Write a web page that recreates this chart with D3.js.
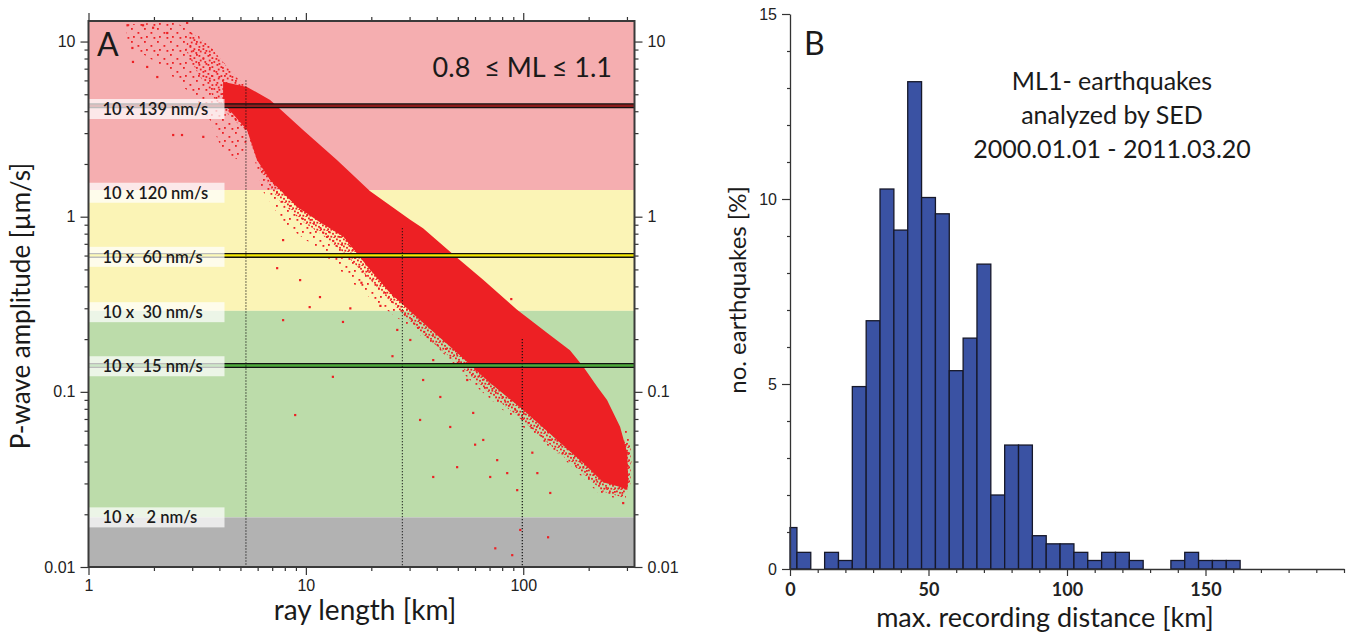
<!DOCTYPE html>
<html>
<head>
<meta charset="utf-8">
<script src="https://cdn.jsdelivr.net/npm/d3@7"></script>
<style>
  body { margin: 0; background: #fff; }
  .hum { font-family: Lato, "Open Sans", sans-serif; fill: #1a1a1a; }
  .tick text { font-family: "Liberation Sans", Arial, sans-serif; font-size: 16px; fill: #222; }
</style>
</head>
<body>
<svg id="chart" width="1352" height="637"></svg>
<script>
// ---------- panel A data (ray length km, amplitude um/s) ----------
const bandTops    = [13.1, 1.42, 0.29, 0.0192];
const bandBottoms = [1.42, 0.29, 0.0192, 0.01];
const lineAmps = [4.3, 0.601, 0.1415];
const labelAmps = [4.12, 1.37, 0.59, 0.285, 0.14, 0.0192];
const labelTexts = ["10 x 139 nm/s", "10 x 120 nm/s", "10 x  60 nm/s", "10 x  30 nm/s", "10 x  15 nm/s", "10 x   2 nm/s"];
const markerKm = [5.3, 27.8, 99];
const markerTopAmp = [6.0, 0.86, 0.2];
const xTicksA = [1, 10, 100];
const yTicksA = [0.01, 0.1, 1, 10];

// dense part of the cloud, outline
const cloudEdge = [
  [4.16, 5.9], [5.36, 5.51], [6.85, 4.64], [9.71, 3.13], [13.9, 2.11], [19.7, 1.4],
  [30.2, 0.96], [34.6, 0.86], [46.1, 0.63], [65.4, 0.436], [93.7, 0.294], [129, 0.217],
  [164, 0.173], [189, 0.139], [219, 0.107], [243, 0.0899], [279, 0.0631], [301, 0.0448],
  [304, 0.0314], [301, 0.0275],
  [279, 0.0286], [233, 0.0305], [189, 0.0393], [143, 0.0531], [100, 0.0788], [70.4, 0.1125],
  [49.6, 0.167], [34.6, 0.248], [24.4, 0.367], [19.7, 0.5], [14.9, 0.767], [11.7, 0.922],
  [9.1, 1.14], [6.85, 1.62], [5.96, 2.11], [5.36, 3.13], [4.16, 4.47]
];
// speckled scatter just under the cloud
const haloNear = [
  [5.6, 2.6], [6.3, 1.75], [7.5, 1.25], [9.5, 0.95], [12, 0.78], [15, 0.62], [20, 0.43],
  [25, 0.32], [35, 0.21], [50, 0.145], [70, 0.098], [100, 0.068], [143, 0.046], [189, 0.034],
  [233, 0.027], [285, 0.025], [312, 0.03], [312, 0.05], [250, 0.06], [100, 0.2], [20, 1.0], [8, 3.0]
];
// sparser scatter further out
const haloEdge = [
  [5.53, 2.74], [6.29, 1.42], [8.02, 0.898], [11.6, 0.645], [17.7, 0.382], [27.2, 0.257],
  [41.5, 0.173], [63.4, 0.102], [96.8, 0.0646], [148, 0.0435], [226, 0.0258], [294, 0.0241],
  [317, 0.0358], [310, 0.0606], [250, 0.06], [100, 0.2], [20, 1.0], [8, 3.0]
];
const fringeOuter = [
  [1.47, 12.5], [2.5, 12.96], [3.44, 10.2], [4.48, 6.89], [5.53, 5.3], [5.53, 2.74],
  [4.88, 2.11], [4.11, 2.4], [3.62, 3.57], [2.99, 4.96], [2.13, 7.36], [1.52, 9.58]
];
const fringeInner = [
  [2.9, 11.5], [3.6, 9.5], [4.5, 6.8], [5.5, 5.3], [5.5, 3.0], [4.6, 3.6], [3.9, 4.5], [3.2, 6.5], [2.8, 9]
];
const outliers = [
  [1.51, 12.4], [1.78, 12.4], [1.98, 12.0], [1.59, 9.2], [1.6, 7.66], [1.86, 7.17], [2.45, 2.93],
  [2.69, 2.93], [3.37, 2.86], [2.07, 6.28], [2.3, 11.2], [2.84, 12.8], [7.85, 0.736], [7.37, 0.509],
  [9.4, 0.435], [10.4, 0.305], [7.85, 0.257], [13.3, 0.122], [14.8, 0.251], [11.6, 0.348],
  [8.92, 0.0738], [26.3, 0.226], [30.2, 0.198], [34.6, 0.117], [41.5, 0.0936], [33.5, 0.0692],
  [46.1, 0.0631], [49.6, 0.0372], [38.5, 0.0327], [65.4, 0.0532], [58.8, 0.0759], [75.8, 0.0408],
  [93.7, 0.0275], [84.3, 0.0344], [116, 0.0344], [133, 0.0265], [70.4, 0.0327], [88.0, 0.339],
  [288, 0.0232], [55.2, 0.117], [38.5, 0.152], [96.8, 0.0163], [88.9, 0.0117], [74.3, 0.0128],
  [130, 0.0148], [22, 0.31], [18, 0.42], [16, 0.3], [25, 0.16], [60, 0.05], [110, 0.045]
];

// ---------- panel B data ----------
const binCenters = [0, 5, 10, 15, 20, 25, 30, 35, 40, 45, 50, 55, 60, 65, 70, 75, 80, 85, 90, 95,
  100, 105, 110, 115, 120, 125, 130, 135, 140, 145, 150, 155, 160];
const binPercent = [1.12, 0.45, 0, 0.45, 0.23, 4.93, 6.71, 10.27, 9.16, 13.17, 10.04, 9.6, 5.36, 6.24, 8.24, 2.0,
  3.35, 3.35, 0.9, 0.68, 0.68, 0.45, 0.23, 0.45, 0.45, 0.23, 0, 0, 0.23, 0.45, 0.23, 0.23, 0.23];
const xTicksB = [0, 50, 100, 150];
const yTicksB = [0, 5, 10, 15];
const titleLines = ["ML1- earthquakes", "analyzed by SED", "2000.01.01 - 2011.03.20"];

const bandColors = ["#f5aeb0", "#fbf4b6", "#bcdcaa", "#b2b2b2"];
const lineColors = ["#8c1c1c", "#f4e800", "#4caa3a"];
const red = "#ed2024";

const svg = d3.select("#chart");
const defs = svg.append("defs");

// speckle patterns for the scattered points around the dense cloud
function speckle(id, size, spots) {
  const p = defs.append("pattern").attr("id", id).attr("patternUnits", "userSpaceOnUse")
    .attr("width", size).attr("height", size);
  spots.forEach(s => p.append("rect").attr("x", s[0]).attr("y", s[1])
    .attr("width", 1.8).attr("height", 1.8).attr("fill", red));
}
speckle("speckSparse", 13, [[1, 2], [7.5, 6], [3, 10], [10.5, 11]]);
speckle("speckMid", 9, [[0.5, 1], [4.5, 3.2], [1.8, 5.6], [6.4, 7.1]]);
speckle("speckDense", 7, [[0, 0.5], [3.1, 1.9], [5.2, 4.4], [1.4, 4.8], [4.3, 6.1]]);

// ================= Panel A =================
const x = d3.scaleLog().domain([1, 325]).range([88.5, 634.5]);
const y = d3.scaleLog().domain([0.01, 13.1]).range([567, 21]);
const [px0, px1] = x.range();
const [py1, py0] = y.range();

defs.append("clipPath").attr("id", "clipA")
  .append("rect").attr("x", px0).attr("y", py0).attr("width", px1 - px0).attr("height", py1 - py0);

const gA = svg.append("g");
const plot = gA.append("g").attr("clip-path", "url(#clipA)");

plot.selectAll("rect.band").data(bandTops).join("rect")
  .attr("x", px0).attr("width", px1 - px0)
  .attr("y", d => y(d))
  .attr("height", (d, i) => y(bandBottoms[i]) - y(d))
  .attr("fill", (d, i) => bandColors[i]);

const poly = d3.line().x(d => x(d[0])).y(d => y(d[1]));

plot.append("path").attr("d", poly(fringeOuter) + "Z").attr("fill", "url(#speckSparse)");
plot.append("path").attr("d", poly(fringeInner) + "Z").attr("fill", "url(#speckMid)");
plot.append("path").attr("d", poly(haloEdge) + "Z").attr("fill", "url(#speckSparse)");
plot.append("path").attr("d", poly(haloNear) + "Z").attr("fill", "url(#speckDense)");
plot.append("path").attr("d", poly(cloudEdge) + "Z").attr("fill", red);

plot.selectAll("rect.dot").data(outliers).join("rect")
  .attr("x", d => x(d[0]) - 1).attr("y", d => y(d[1]) - 1)
  .attr("width", 2.2).attr("height", 2.2).attr("fill", red);

// threshold lines
lineAmps.forEach((a, i) => {
  plot.append("line").attr("x1", px0).attr("x2", px1).attr("y1", y(a)).attr("y2", y(a))
    .attr("stroke", "#111").attr("stroke-width", 5);
  plot.append("line").attr("x1", px0).attr("x2", px1).attr("y1", y(a)).attr("y2", y(a))
    .attr("stroke", lineColors[i]).attr("stroke-width", 2.4);
});

// dotted markers
plot.selectAll("line.mark").data(markerKm).join("line")
  .attr("x1", d => x(d)).attr("x2", d => x(d))
  .attr("y1", (d, i) => y(markerTopAmp[i])).attr("y2", py1)
  .attr("stroke", "#111").attr("stroke-width", 1.2).attr("stroke-dasharray", "1.2,1.8");

// label boxes
const lab = plot.selectAll("g.lab").data(labelAmps).join("g")
  .attr("transform", d => `translate(${px0},${y(d)})`);
lab.append("rect").attr("x", 0).attr("y", -10).attr("width", 136).attr("height", 20)
  .attr("fill", "#fff").attr("opacity", 0.72);
lab.append("text").attr("class", "hum").attr("x", 14).attr("y", 6)
  .attr("font-size", 16.5).attr("font-weight", 600).attr("xml:space", "preserve").style("white-space", "pre")
  .text((d, i) => labelTexts[i]);

// axes A
function logAxes(axisFn, scale, majors, pos, labels) {
  const minor = scale.ticks().filter(v => !majors.includes(v));
  const gm = gA.append("g").attr("transform", pos).call(axisFn(scale).tickValues(minor).tickSize(4).tickFormat(""));
  gm.select(".domain").remove();
  const gM = gA.append("g").attr("transform", pos)
    .call(axisFn(scale).tickValues(majors).tickSize(8).tickPadding(5).tickFormat(labels ? d => String(d) : ""));
  gM.select(".domain").remove();
  gA.selectAll(".tick line").attr("stroke", "#333").attr("stroke-width", 1.2);
  return gM;
}
logAxes(d3.axisLeft, y, yTicksA, `translate(${px0},0)`, true);
logAxes(d3.axisRight, y, yTicksA, `translate(${px1},0)`, true).selectAll("text").attr("x", 13);
logAxes(d3.axisBottom, x, xTicksA, `translate(0,${py1})`, true).selectAll("text").attr("y", 13);
logAxes(d3.axisTop, x, xTicksA, `translate(0,${py0})`, false);

gA.append("rect").attr("x", px0).attr("y", py0).attr("width", px1 - px0).attr("height", py1 - py0)
  .attr("fill", "none").attr("stroke", "#3a3a3a").attr("stroke-width", 2);

gA.append("text").attr("class", "hum").attr("x", 97).attr("y", 56).attr("font-size", 32).text("A");
gA.append("text").attr("class", "hum").attr("x", 612).attr("y", 77).attr("text-anchor", "end")
  .attr("font-size", 27).attr("xml:space", "preserve").style("white-space", "pre").text("0.8  \u2264 ML \u2264 1.1");
gA.append("text").attr("class", "hum").attr("x", 365).attr("y", 620).attr("text-anchor", "middle")
  .attr("font-size", 28).text("ray length [km]");
gA.append("text").attr("class", "hum").attr("transform", "translate(30,306) rotate(-90)")
  .attr("text-anchor", "middle").attr("font-size", 26).text("P-wave amplitude [\u00b5m/s]");

// ================= Panel B =================
const xb = d3.scaleLinear().domain([0, 200]).range([790, 1344]);
const yb = d3.scaleLinear().domain([0, 15]).range([569, 14]);
const gB = svg.append("g");

const bars = binCenters.map((c, i) => ({ x0: Math.max(0, c - 2.5), x1: c + 2.5, v: binPercent[i] }))
  .filter(d => d.v > 0);
gB.selectAll("rect.bar").data(bars).join("rect")
  .attr("x", d => xb(d.x0)).attr("width", d => xb(d.x1) - xb(d.x0))
  .attr("y", d => yb(d.v)).attr("height", d => yb(0) - yb(d.v))
  .attr("fill", "#3a52a3").attr("stroke", "#16182a").attr("stroke-width", 1.3);

const yMinorB = d3.range(0, 16).filter(v => !yTicksB.includes(v));
gB.append("g").attr("transform", `translate(${xb(0)},0)`)
  .call(d3.axisLeft(yb).tickValues(yMinorB).tickSize(3).tickFormat("")).select(".domain").remove();
gB.append("g").attr("transform", `translate(${xb(0)},0)`)
  .call(d3.axisLeft(yb).tickValues(yTicksB).tickSize(8).tickPadding(5).tickSizeOuter(0));

const xMinorB = d3.range(0, 201, 10).filter(v => !xTicksB.includes(v));
gB.append("g").attr("transform", `translate(0,${yb(0)})`)
  .call(d3.axisBottom(xb).tickValues(xMinorB).tickSize(4).tickFormat("")).select(".domain").remove();
const gxB = gB.append("g").attr("transform", `translate(0,${yb(0)})`)
  .call(d3.axisBottom(xb).tickValues(xTicksB).tickSize(7).tickSizeOuter(0).tickFormat(d => String(d)));
gxB.selectAll("text").attr("y", 14).attr("class", "hum").style("font-family", "Lato, sans-serif")
  .style("font-weight", "bold").style("font-size", "18px");
gB.selectAll(".domain").attr("stroke", "#333").attr("stroke-width", 1.3);
gB.selectAll(".tick line").attr("stroke", "#333").attr("stroke-width", 1.2);

gB.append("text").attr("class", "hum").attr("x", 804).attr("y", 55).attr("font-size", 32).text("B");
gB.selectAll("text.title").data(titleLines).join("text").attr("class", "hum")
  .attr("x", 1112).attr("y", (d, i) => 90 + i * 34).attr("text-anchor", "middle")
  .attr("font-size", 25).text(d => d);
gB.append("text").attr("class", "hum").attr("x", 1045).attr("y", 627).attr("text-anchor", "middle")
  .attr("font-size", 27).text("max. recording distance [km]");
gB.append("text").attr("class", "hum").attr("transform", "translate(746,290) rotate(-90)")
  .attr("text-anchor", "middle").attr("font-size", 24).text("no. earthquakes [%]");
</script>
</body>
</html>
